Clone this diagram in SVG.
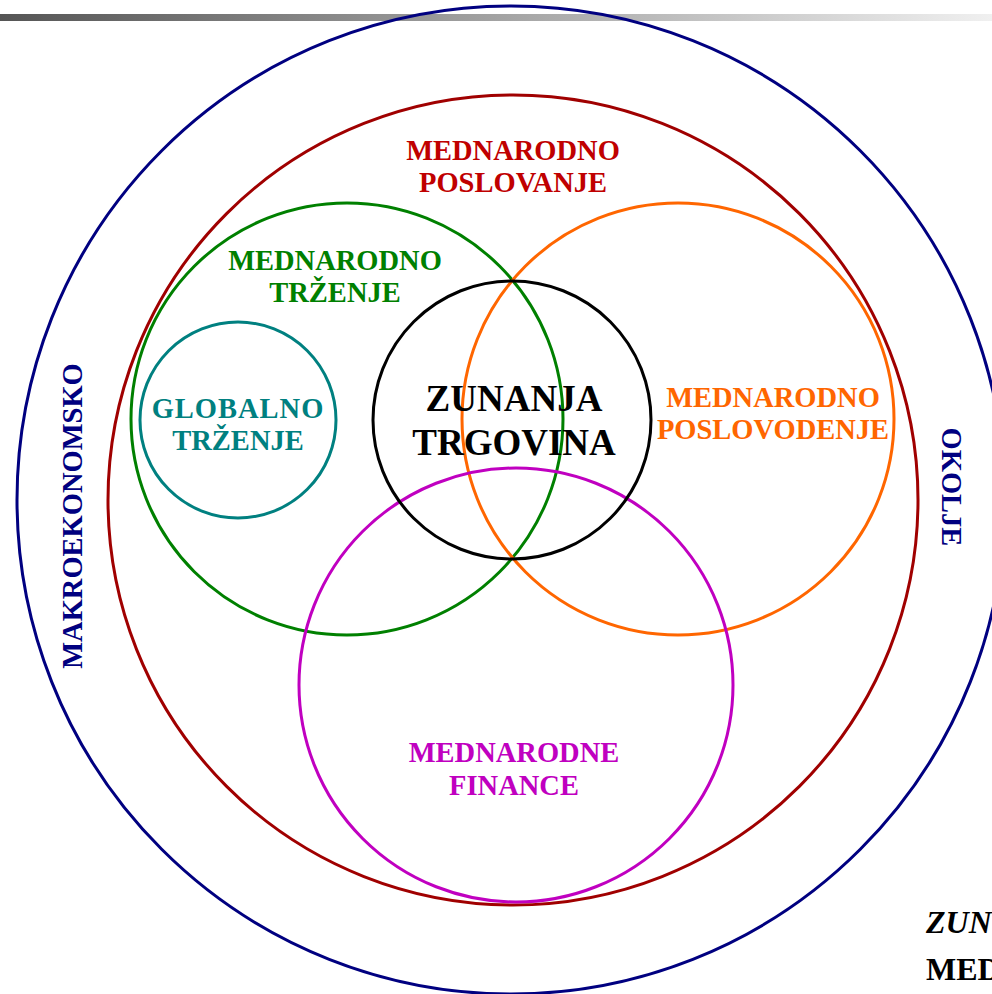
<svg xmlns="http://www.w3.org/2000/svg" width="992" height="994" viewBox="0 0 992 994">
<defs>
<linearGradient id="bar" x1="0" y1="0" x2="1" y2="0">
<stop offset="0" stop-color="#555555"/>
<stop offset="1" stop-color="#f0f0f0"/>
</linearGradient>
</defs>
<style>
circle{fill:none;stroke-width:3}
text{font-family:"Liberation Serif","Times New Roman",serif;font-weight:bold;text-anchor:middle}
.lbl{font-size:28.5px}
</style>
<rect x="0" y="14" width="992" height="7" fill="url(#bar)"/>
<g id="makro">
<circle cx="511" cy="500" r="494" stroke="#000080"/>
<text class="lbl" fill="#000080" transform="translate(82,516) rotate(-90)">MAKROEKONOMSKO</text>
<text class="lbl" fill="#000080" transform="translate(942,487) rotate(90)">OKOLJE</text>
</g>
<g id="poslovanje">
<circle cx="513" cy="500" r="405" stroke="#a00000"/>
<text class="lbl" fill="#c00000" x="513" y="160">MEDNARODNO</text>
<text class="lbl" fill="#c00000" x="513" y="192">POSLOVANJE</text>
</g>
<g id="trzenje">
<circle cx="347" cy="419" r="216" stroke="#008000"/>
<text class="lbl" fill="#008000" x="335" y="270">MEDNARODNO</text>
<text class="lbl" fill="#008000" x="335" y="302">TRŽENJE</text>
</g>
<g id="poslovodenje">
<circle cx="678" cy="419" r="216" stroke="#ff6600"/>
<text class="lbl" fill="#ff6600" x="773" y="407">MEDNARODNO</text>
<text class="lbl" fill="#ff6600" x="773" y="439">POSLOVODENJE</text>
</g>
<g id="finance">
<circle cx="516" cy="685" r="217" stroke="#c000c0"/>
<text class="lbl" fill="#c000c0" x="514" y="762">MEDNARODNE</text>
<text class="lbl" fill="#c000c0" x="514" y="795">FINANCE</text>
</g>
<g id="globalno">
<circle cx="238" cy="420" r="98" stroke="#008080"/>
<text class="lbl" fill="#008080" x="238" y="418" letter-spacing="1">GLOBALNO</text>
<text class="lbl" fill="#008080" x="238" y="450">TRŽENJE</text>
</g>
<g id="trgovina">
<circle cx="512" cy="420" r="139" stroke="#000000"/>
<text fill="#000" font-size="37" x="514" y="411">ZUNANJA</text>
<text fill="#000" font-size="37" x="514" y="455">TRGOVINA</text>
</g>
<g id="corner">
<text fill="#000" font-size="32" font-style="italic" x="926" y="933" style="text-anchor:start">ZUN</text>
<text fill="#000" font-size="32" x="926" y="980" style="text-anchor:start">MED</text>
</g>
<g id="connectors"/>
</svg>
